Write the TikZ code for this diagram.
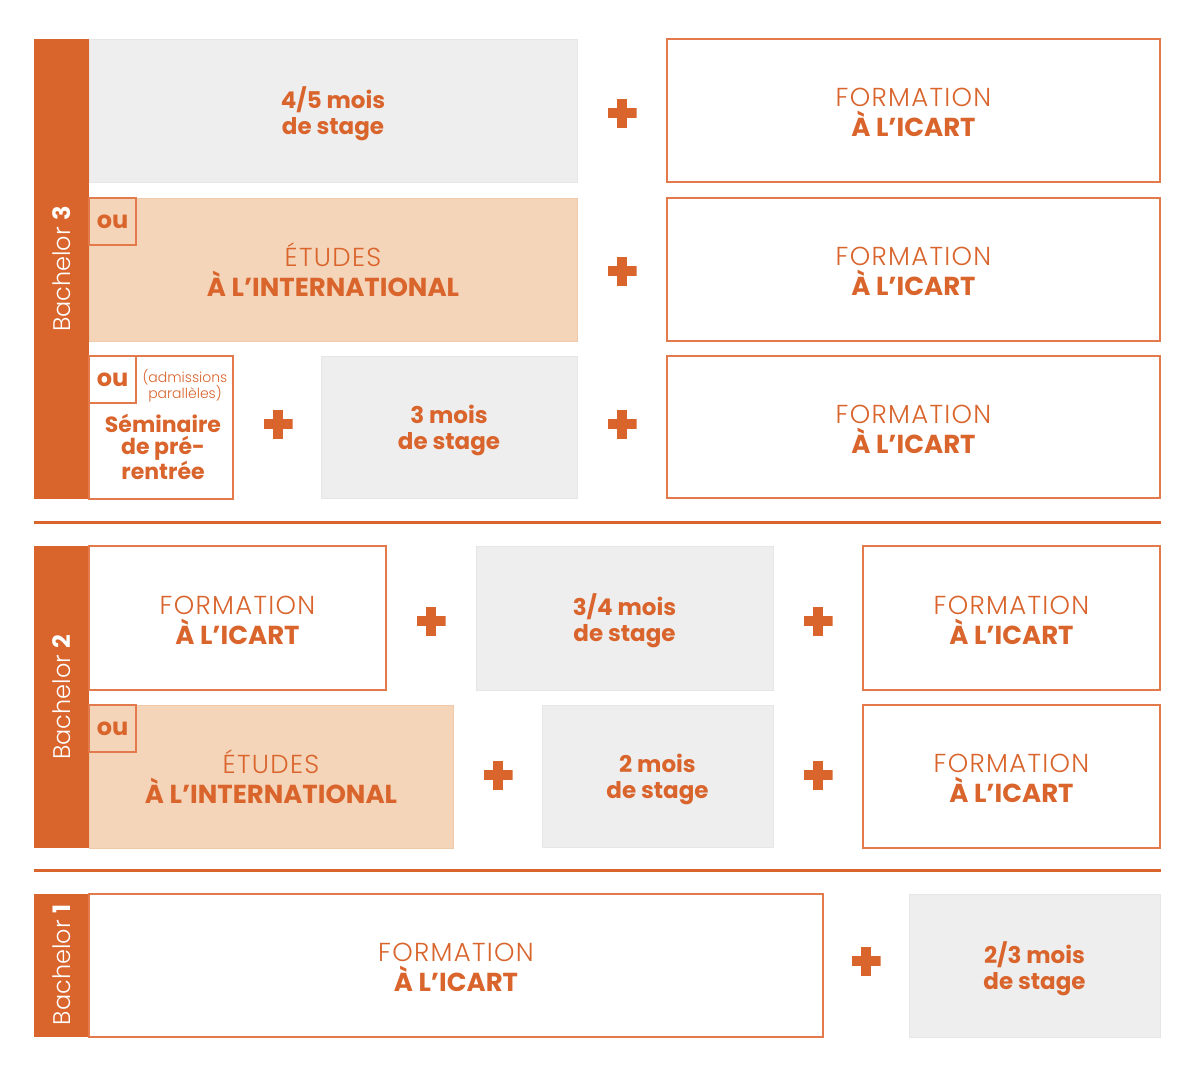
\documentclass[tikz,border=0pt]{standalone}
\usepackage{fontspec}
\setmainfont{Poppins}
\newfontfamily\lightf{Poppins Light}
\newfontfamily\lightsp{Poppins Light}[LetterSpace=5]
\definecolor{ocol}{HTML}{D9642C}
\definecolor{obord}{HTML}{E27A4B}
\definecolor{gfill}{HTML}{EEEEEE}
\definecolor{gbord}{HTML}{E6E6E6}
\definecolor{pfill}{HTML}{F5D5B9}
\definecolor{pbord}{HTML}{F0C9A8}
\newcommand\tightls{\lineskiplimit=-20pt\relax}
% #1 name, #2 box style, #3-#6 corners, #7 text style, #8 text, #9 vertical shift
\newcommand\mybox[9]{%
  \node[#2, anchor=north west, minimum width={#5-#3}, minimum height={#6-#4}] (#1) at (#3,#4) {};
  \node[#7, yshift=#9] (#1t) at (#1.center) {\tightls #8};}
\tikzset{
  base/.style={inner sep=0pt, outer sep=0pt, align=center, text=ocol},
  formbox/.style={base, draw=obord, line width=1.5pt, fill=white},
  whitebox/.style={base, draw=obord, line width=1.5pt, fill=white},
  greybox/.style={base, draw=gbord, line width=1pt, fill=gfill},
  peachbox/.style={base, draw=pbord, line width=1pt, fill=pfill},
  oubox/.style={base, draw=obord, line width=1.2pt},
  barbox/.style={base, fill=ocol},
  formtext/.style={base, font=\fontsize{26}{30}\selectfont},
  stagetext/.style={base, font=\fontsize{23}{26}\selectfont\bfseries},
  outext/.style={base, font=\fontsize{24}{26}\selectfont\bfseries},
  notext/.style={base},
  barlabel/.style={inner sep=0pt, text=white, rotate=90, font=\fontsize{24}{26}\selectfont},
  sepline/.style={draw=ocol, line width=3pt},
  plusn/.style={minimum size=29pt, inner sep=0pt, outer sep=0pt, path picture={
    \fill[ocol] ([yshift=-4.8pt]path picture bounding box.west) rectangle ([yshift=4.8pt]path picture bounding box.east);
    \fill[ocol] ([xshift=-4.8pt]path picture bounding box.south) rectangle ([xshift=4.8pt]path picture bounding box.north);}},
}
\newcommand\formtxt{{\lightsp FORMATION}\\{\bfseries À L’ICART}}
\newcommand\etudtxt{{\lightsp ÉTUDES}\\{\bfseries À L’INTERNATIONAL}}
\begin{document}
\begin{tikzpicture}[x=1pt,y=-1pt]
\fill[white] (0,0) rectangle (1200,1068);
\useasboundingbox (0,0) rectangle (1200,1068);
% ---------- Bachelor 3
\mybox{bar3}{barbox}{34}{39}{89}{499}{notext}{}{0pt}
\node[barlabel] (lab3) at (61.5,269) {{\lightf Bachelor} {\bfseries 3}};
\mybox{g1}{greybox}{89}{39}{577}{182}{stagetext}{4/5 mois\\de stage}{-3pt}
\node[plusn] (p1) at (622,113) {};
\mybox{f1}{formbox}{667}{39}{1160}{182}{formtext}{\formtxt}{-2pt}
\mybox{e1}{peachbox}{89}{198}{577}{341}{formtext}{\etudtxt}{0pt}
\mybox{ou1}{oubox}{89}{198}{136}{245}{outext}{ou}{0pt}
\node[plusn] (p2) at (622,271) {};
\mybox{f2}{formbox}{667}{198}{1160}{341}{formtext}{\formtxt}{-2pt}
\mybox{s1}{whitebox}{89}{356}{233}{499}{notext}{}{0pt}
\mybox{ou2}{oubox}{89}{356}{136}{403}{outext}{ou}{0pt}
\node[base, font=\fontsize{14}{16}\selectfont\lightf] (adm) at (185,386) {\tightls (admissions\\parallèles)};
\node[base, font=\fontsize{22}{21.5}\selectfont\bfseries] (sem) at (163,447) {\tightls Séminaire\\de pré-\\rentrée};
\node[plusn] (p3) at (278,424) {};
\mybox{g2}{greybox}{321}{356}{577}{498}{stagetext}{3 mois\\de stage}{-3pt}
\node[plusn] (p4) at (622,424) {};
\mybox{f3}{formbox}{667}{356}{1160}{498}{formtext}{\formtxt}{-2pt}
\draw[sepline] (34,522) -- (1161,522);
% ---------- Bachelor 2
\mybox{bar2}{barbox}{34}{546}{89}{848}{notext}{}{0pt}
\node[barlabel] (lab2) at (61.5,697) {{\lightf Bachelor} {\bfseries 2}};
\mybox{f4}{formbox}{89}{546}{386}{690}{formtext}{\formtxt}{-2pt}
\node[plusn] (p5) at (431,621) {};
\mybox{g3}{greybox}{476}{546}{773}{690}{stagetext}{3/4 mois\\de stage}{-3pt}
\node[plusn] (p6) at (818,621) {};
\mybox{f5}{formbox}{863}{546}{1160}{690}{formtext}{\formtxt}{-2pt}
\mybox{e2}{peachbox}{89}{705}{453}{848}{formtext}{\etudtxt}{0pt}
\mybox{ou3}{oubox}{89}{705}{136}{752}{outext}{ou}{0pt}
\node[plusn] (p7) at (498,775) {};
\mybox{g4}{greybox}{542}{705}{773}{847}{stagetext}{2 mois\\de stage}{-3pt}
\node[plusn] (p8) at (818,775) {};
\mybox{f6}{formbox}{863}{705}{1160}{848}{formtext}{\formtxt}{-2pt}
\draw[sepline] (34,870) -- (1161,870);
% ---------- Bachelor 1
\mybox{bar1}{barbox}{34}{894}{89}{1037}{notext}{}{0pt}
\node[barlabel] (lab1) at (61.5,965) {{\lightf Bachelor} {\bfseries 1}};
\mybox{f7}{formbox}{89}{894}{823}{1037}{formtext}{\formtxt}{-2pt}
\node[plusn] (p9) at (866,961) {};
\mybox{g5}{greybox}{909}{894}{1160}{1037}{stagetext}{2/3 mois\\de stage}{-3pt}
\end{tikzpicture}
\end{document}
